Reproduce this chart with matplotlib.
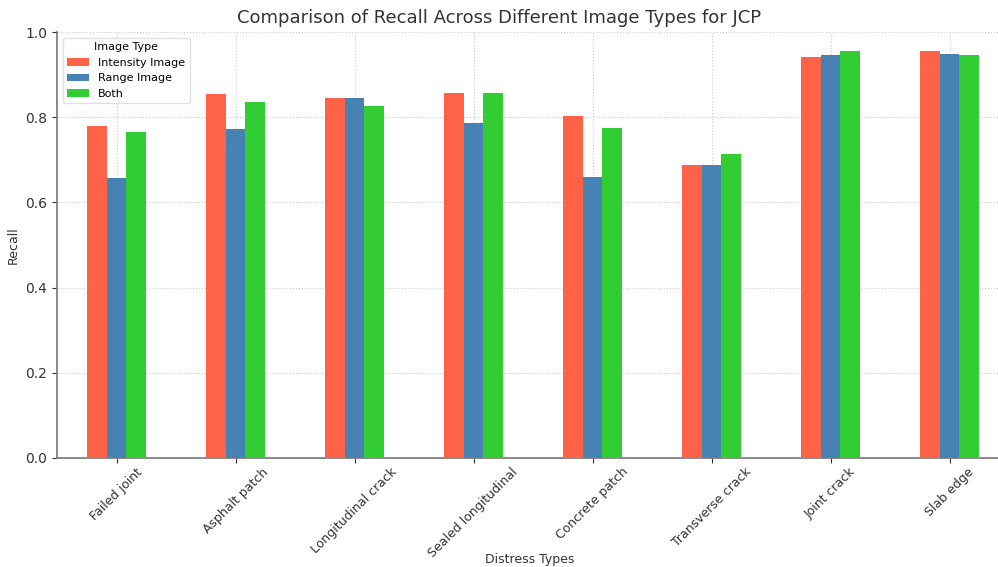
import matplotlib
matplotlib.use("Agg")
import matplotlib.pyplot as plt
import numpy as np

categories = ["Failed joint", "Asphalt patch", "Longitudinal crack", "Sealed longitudinal",
              "Concrete patch", "Transverse crack", "Joint crack", "Slab edge"]
intensity = [0.779, 0.854, 0.845, 0.857, 0.803, 0.688, 0.942, 0.957]
range_img = [0.658, 0.772, 0.845, 0.786, 0.660, 0.688, 0.947, 0.948]
both = [0.765, 0.835, 0.826, 0.857, 0.775, 0.714, 0.955, 0.946]
series_names = ["Intensity Image", "Range Image", "Both"]
colors = ["#FF6347", "#4682B4", "#32CD32"]

fig = plt.figure(figsize=(9.98, 5.67), dpi=100)
ax = fig.add_axes([57/998, 1 - 457.7/567, 952/998, (457.7 - 32.3)/567])

x = np.arange(len(categories))
w = 0.5 / 3
for i, (vals, name, c) in enumerate(zip([intensity, range_img, both], series_names, colors)):
    ax.bar(x + (i - 1) * w, vals, width=w, color=c, label=name, zorder=3)

ax.set_xlim(-0.5, len(categories) - 0.5)
ax.set_ylim(0, 1.0)
ax.set_xticks(x)
ax.set_xticklabels(categories, rotation=45, fontsize=9, color="#333333")
ax.set_yticks([0.0, 0.2, 0.4, 0.6, 0.8, 1.0])
ax.tick_params(axis='y', labelsize=10, colors="#333333")
ax.tick_params(axis='x', colors="#333333", pad=2)
ax.grid(True, linestyle=':', color="#cccccc", linewidth=0.8, zorder=0)
for s in ["top", "right"]:
    ax.spines[s].set_visible(False)
for s in ["left", "bottom"]:
    ax.spines[s].set_color("#777777")
    ax.spines[s].set_linewidth(1.2)

fig.text(530/998, 1 - 560/567, "Distress Types", ha="center", va="center",
         fontsize=9, color="#333333")
ax.set_ylabel("Recall", fontsize=9, color="#333333")
fig.text(0.5, 1 - 18/567, "Comparison of Recall Across Different Image Types for JCP",
         ha="center", va="center", fontsize=13, color="#333333")
leg = ax.legend(title="Image Type", loc="upper left", fontsize=8, title_fontsize=8,
                framealpha=0.9, edgecolor="#dddddd")

fig.savefig("out.png", dpi=100)
